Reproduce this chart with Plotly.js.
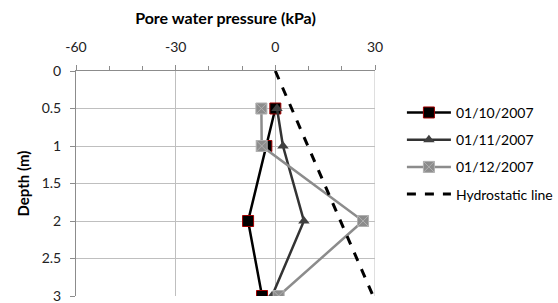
<!DOCTYPE html>
<html>
<head>
<meta charset="utf-8">
<script src="https://cdn.plot.ly/plotly-3.0.1.min.js"></script>
<style>html,body{margin:0;padding:0;background:#fff}#chart{width:558px;height:303px}</style>
</head>
<body>
<div id="chart"></div>
<script>
const depths = [0.5, 1, 2, 3];
const s1Name = "01/10/2007";
const s1 = [0, -2.7, -8.2, -4];
const s2Name = "01/11/2007";
const s2 = [0.5, 2.3, 8.6, -1];
const s3Name = "01/12/2007";
const s3 = [-4.2, -4.1, 26.4, 1];
const hydroName = "Hydrostatic line";
const hydroDepth = [0, 3];
const hydroP = [0, 29.43];
const xTicks = [-60, -30, 0, 30];
const yTicks = [0, 0.5, 1, 1.5, 2, 2.5, 3];

const traces = [
  {x: s1, y: depths, name: s1Name, mode: "lines+markers", legendgroup: "a",
   line: {color: "#000000", width: 2.5},
   marker: {symbol: "square", size: 11, color: "#000000", line: {color: "#a00000", width: 1}}},
  {x: s2, y: depths, name: s2Name, mode: "lines+markers", legendgroup: "b",
   line: {color: "#333333", width: 2.5},
   marker: {symbol: "triangle-up", size: 10, color: "#404040"}},
  {x: s3, y: depths, name: s3Name, mode: "lines+markers", legendgroup: "c",
   line: {color: "#8c8c8c", width: 2.5},
   marker: {symbol: "square-x", size: 11, color: "#8c8c8c", line: {color: "#b0b0b0", width: 1}}},
  {x: hydroP, y: hydroDepth, name: hydroName, mode: "lines", legendgroup: "d",
   line: {color: "#000000", width: 3, dash: "dash"}}
];

const layout = {
  width: 558, height: 303,
  margin: {l: 76, r: 183, t: 71, b: 7, autoexpand: false},
  paper_bgcolor: "#ffffff", plot_bgcolor: "#ffffff",
  font: {family: "Lato, 'Open Sans', sans-serif", size: 14, color: "#000"},
  showlegend: true,
  legend: {x: 1.09, y: 0.885, xanchor: "left", yanchor: "top", traceorder: "grouped",
           itemwidth: 44, tracegroupgap: 6, font: {size: 14, color: "#000"}, bgcolor: "rgba(0,0,0,0)"},
  xaxis: {side: "top", range: [-60, 30], tickvals: xTicks, ticktext: xTicks.map(String),
          showgrid: true, gridcolor: "#bfbfbf", gridwidth: 1,
          zeroline: false, showline: true, linecolor: "#8c8c8c", linewidth: 1,
          ticks: "outside", ticklen: 5, tickcolor: "#8c8c8c", ticklabelstandoff: 7,
          minor: {dtick: 10, tick0: 0, ticks: "outside", ticklen: 4, tickcolor: "#8c8c8c", showgrid: false},
          tickfont: {size: 14, color: "#222"},
          title: {text: "<b>Pore water pressure (kPa)</b>", font: {size: 16, color: "#000"}, standoff: 9}},
  yaxis: {range: [3, 0], tickvals: yTicks, ticktext: yTicks.map(String),
          showgrid: true, gridcolor: "#bfbfbf", gridwidth: 1,
          zeroline: false, showline: true, linecolor: "#8c8c8c", linewidth: 1,
          ticks: "outside", ticklen: 5, tickcolor: "#8c8c8c", ticklabelstandoff: 6,
          ticklabeloverflow: "allow",
          tickfont: {size: 14, color: "#222"},
          title: {text: "<b>Depth (m)</b>", font: {size: 15, color: "#000"}, standoff: 8}},
  shapes: [
    {type: "line", xref: "x", yref: "paper", x0: 30, x1: 30, y0: 0, y1: 1, line: {color: "#bfbfbf", width: 1}}
  ]
};

Plotly.newPlot("chart", traces, layout, {displayModeBar: false, staticPlot: true});
</script>
</body>
</html>
